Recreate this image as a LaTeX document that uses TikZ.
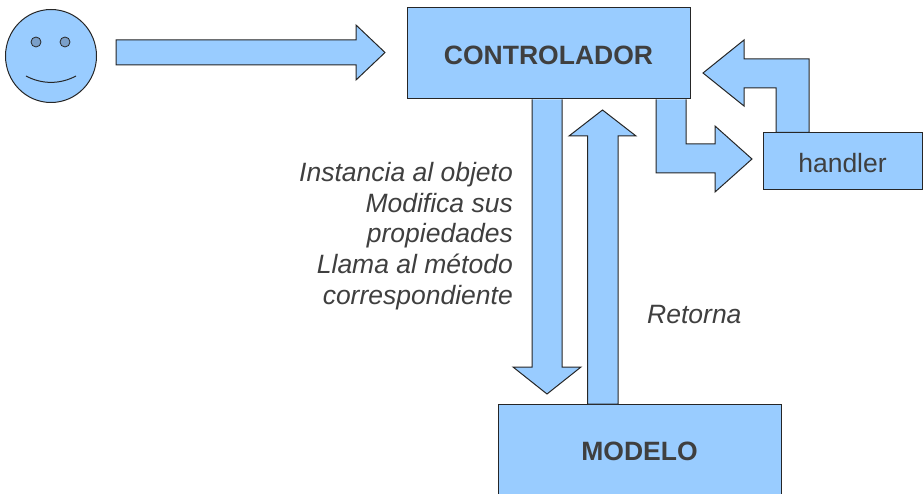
\documentclass[tikz,border=0pt]{standalone}
\usepackage{fontspec}
\setmainfont{Liberation Sans}
\usetikzlibrary{shapes.geometric}
\definecolor{blockblue}{HTML}{99CCFF}
\definecolor{inktext}{HTML}{3F3F3F}
\definecolor{eyeblue}{HTML}{7A9FC9}
\tikzset{
  blockbox/.style={draw=black!85,fill=blockblue,line width=1pt,inner sep=0pt,text=inktext,minimum width=#1,text depth=0pt},
  blockarrow/.style={draw=black!85,fill=blockblue,line width=1pt,line join=miter},
  caption/.style={text=inktext,font=\fontsize{26.5}{30.6}\selectfont\itshape,inner sep=0pt},
  boldlabel/.style={font=\fontsize{26.5}{30.6}\selectfont\bfseries,text height=22pt},
  plainlabel/.style={font=\fontsize{26.5}{30.6}\selectfont,text height=21.5pt},
  eyedot/.style={circle,draw=black!85,fill=eyeblue,line width=0.8pt,minimum size=10pt,inner sep=0pt}
}
\begin{document}
\begin{tikzpicture}[x=1pt,y=-1pt]
\useasboundingbox (0,0) rectangle (923,494);
% boxes
\node[blockbox=283pt,minimum height=91pt,boldlabel] (ctrl) at (548.5,53.5) {CONTROLADOR};
\node[blockbox=283pt,minimum height=91pt,boldlabel,text height=21pt] (modelo) at (639.5,450) {MODELO};
\node[blockbox=159pt,minimum height=57pt,plainlabel] (handler) at (842.5,161.5) {handler};
% face
\node[ellipse,draw=black!85,fill=blockblue,line width=1pt,minimum width=91pt,minimum height=93pt,inner sep=0pt] (face) at (51,56) {};
\node[eyedot] (eyeL) at (36,42) {};
\node[eyedot] (eyeR) at (65,42) {};
\coordinate (smileL) at (26,76);
\coordinate (smileR) at (76,76);
\draw[draw=black!85,line width=1pt] (smileL) .. controls (42,84.5) and (60,84.5) .. (smileR);
% user -> controller
\draw[blockarrow] (116,40) -- (356,40) -- (356,25) -- (385,52.5) -- (356,80) -- (356,65) -- (116,65) -- cycle;
% controller -> model
\draw[blockarrow] (532,0 |- ctrl.south) -- (532,367) -- (513,367) -- (547,394) -- (581,367) -- (562,367) -- (562,0 |- ctrl.south);
% model -> controller
\draw[blockarrow] (587.5,0 |- modelo.north) -- (587.5,136) -- (569,136) -- (602.5,110) -- (636,136) -- (618,136) -- (618,0 |- modelo.north) -- cycle;
% controller -> handler
\draw[blockarrow] (656,0 |- ctrl.south) -- (656,173) -- (715,173) -- (715,192) -- (752,159) -- (715,126) -- (715,144) -- (686,144) -- (686,0 |- ctrl.south);
% handler -> controller
\draw[blockarrow] (776,0 |- handler.north) -- (776,88) -- (744,88) -- (744,106) -- (703,73) -- (744,40) -- (744,59) -- (809,59) -- (809,0 |- handler.north) -- cycle;
% captions
\node[caption,align=right,anchor=east] (instr) at (513,236) {Instancia al objeto\\Modifica sus\\propiedades\\Llama al método\\correspondiente};
\node[caption,anchor=west] (ret) at (647,315) {Retorna};
\end{tikzpicture}
\end{document}
